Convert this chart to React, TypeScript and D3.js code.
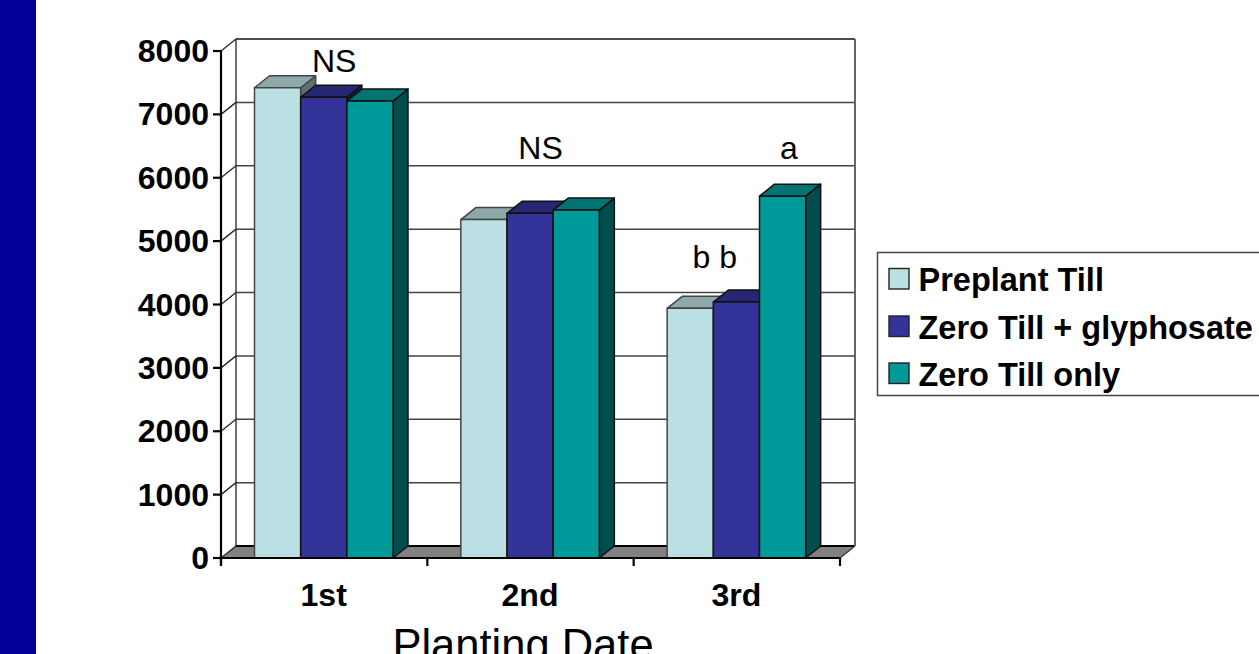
import React from "react";
import * as d3 from "d3";

const categories = ["1st", "2nd", "3rd"];
const seriesNames = ["Preplant Till", "Zero Till + glyphosate", "Zero Till only"];
const preplantTill = [7420, 5340, 3940];
const zeroTillGlyphosate = [7270, 5440, 4040];
const zeroTillOnly = [7210, 5490, 5710];
const yTicks = [0, 1000, 2000, 3000, 4000, 5000, 6000, 7000, 8000];
const annotations = [
  { text: "NS", category: 0, value: 7670, shift: 10 },
  { text: "NS", category: 1, value: 6290, shift: 10 },
  { text: "b b", category: 2, value: 4570, shift: -22 },
  { text: "a", category: 2, value: 6290, shift: 52 },
];

const frontFaces = ["#BBE0E3", "#333399", "#009999"];
const topFaces = ["#8FA9AB", "#262673", "#007373"];
const sideFaces = ["#5E7072", "#1A1A4D", "#004D4D"];
const seriesValues = [preplantTill, zeroTillGlyphosate, zeroTillOnly];

const FONT = '"Liberation Sans", Arial, sans-serif';
const DX = 15;
const DY = -12;

const y = d3.scaleLinear().domain([0, 8000]).range([558, 51]);
const x0 = d3.scaleBand<number>().domain([0, 1, 2]).range([221, 840]);
const x1 = d3.scaleBand<number>().domain([0, 1, 2]).range([33.5, 172]);

const poly = (pts: [number, number][]) => pts.map((p) => p.join(",")).join(" ");

export default function App() {
  const left = x0.range()[0];
  const right = x0.range()[1];
  const base = y(0);
  const top = y(8000);
  const catEdges = [...categories.map((_, i) => x0(i) as number), right];

  return (
    <svg
      width={1259}
      height={654}
      viewBox="0 0 1259 654"
      style={{ position: "absolute", left: 0, top: 0, display: "block", background: "#fff" }}
      fontFamily={FONT}
    >
      <rect x={0} y={0} width={36} height={654} fill="#000099" />

      {/* floor of the 3D plot box */}
      <polygon
        points={poly([[left, base], [left + DX, base + DY], [right + DX, base + DY], [right, base]])}
        fill="#808080"
      />
      <line x1={left + DX} x2={right + DX} y1={base + DY} y2={base + DY} stroke="#000" strokeWidth={1.8} />
      <line x1={right} x2={right + DX} y1={base} y2={base + DY} stroke="#333" strokeWidth={1.2} />

      {/* back wall and side wall gridlines */}
      {yTicks.map((t) => (
        <g key={t}>
          <line x1={left} x2={left + DX} y1={y(t)} y2={y(t) + DY} stroke="#222" strokeWidth={1.3} />
          {t > 0 && (
            <line
              x1={left + DX}
              x2={right + DX}
              y1={y(t) + DY}
              y2={y(t) + DY}
              stroke={t === 8000 ? "#111" : "#444"}
              strokeWidth={1.5}
            />
          )}
        </g>
      ))}
      <line x1={left + DX} x2={left + DX} y1={top + DY} y2={base + DY} stroke="#222" strokeWidth={1.3} />
      <line x1={right + DX} x2={right + DX} y1={top + DY} y2={base + DY} stroke="#555" strokeWidth={1.8} />

      {/* bars, left to right so nearer faces overlap */}
      {categories.map((_, c) =>
        seriesValues.map((vals, s) => {
          const xa = (x0(c) as number) + (x1(s) as number);
          const xb = xa + x1.bandwidth();
          const yt = y(vals[c]);
          return (
            <g key={`${c}-${s}`} stroke={s === 0 ? "#444" : "#111"} strokeWidth={1.5} strokeLinejoin="round">
              <polygon
                points={poly([[xb, yt], [xb + DX, yt + DY], [xb + DX, base + DY], [xb, base]])}
                fill={sideFaces[s]}
              />
              <polygon
                points={poly([[xa, yt], [xa + DX, yt + DY], [xb + DX, yt + DY], [xb, yt]])}
                fill={topFaces[s]}
              />
              <rect x={xa} y={yt} width={xb - xa} height={base - yt} fill={frontFaces[s]} />
            </g>
          );
        })
      )}

      {/* value axis */}
      <line x1={left} x2={left} y1={top} y2={base + 8} stroke="#000" strokeWidth={2.2} />
      {yTicks.map((t) => (
        <g key={t}>
          <line x1={left - 8} x2={left} y1={y(t)} y2={y(t)} stroke="#000" strokeWidth={2.2} />
          <text x={209} y={y(t) + 11} textAnchor="end" fontSize={32} fontWeight="bold" fill="#000">
            {t}
          </text>
        </g>
      ))}

      {/* category axis */}
      <line x1={left} x2={right} y1={base} y2={base} stroke="#000" strokeWidth={2.2} />
      {catEdges.map((e) => (
        <line key={e} x1={e} x2={e} y1={base} y2={base + 8} stroke="#000" strokeWidth={2.2} />
      ))}
      {categories.map((c, i) => (
        <text
          key={c}
          x={(x0(i) as number) + x0.bandwidth() / 2 - 0.5}
          y={606}
          textAnchor="middle"
          fontSize={32}
          fontWeight="bold"
          fill="#000"
        >
          {c}
        </text>
      ))}
      <text x={523} y={660} textAnchor="middle" fontSize={43.5} fill="#000">
        Planting Date
      </text>

      {/* significance letters above the groups */}
      {annotations.map((a, i) => (
        <text
          key={i}
          x={(x0(a.category) as number) + x0.bandwidth() / 2 + a.shift}
          y={y(a.value)}
          textAnchor="middle"
          fontSize={32}
          fill="#000"
        >
          {a.text}
        </text>
      ))}

      {/* legend */}
      <rect x={877.5} y={252.5} width={390} height={143} fill="#fff" stroke="#444" strokeWidth={1.5} />
      {seriesNames.map((name, i) => {
        const sy = [268.5, 316, 363][i];
        return (
          <g key={name}>
            <rect x={889} y={sy} width={20} height={20.5} fill={frontFaces[i]} stroke="#222" strokeWidth={1.4} />
            <text x={918.5} y={[291, 339, 386][i]} fontSize={32.5} fontWeight="bold" fill="#000">
              {name}
            </text>
          </g>
        );
      })}
    </svg>
  );
}
